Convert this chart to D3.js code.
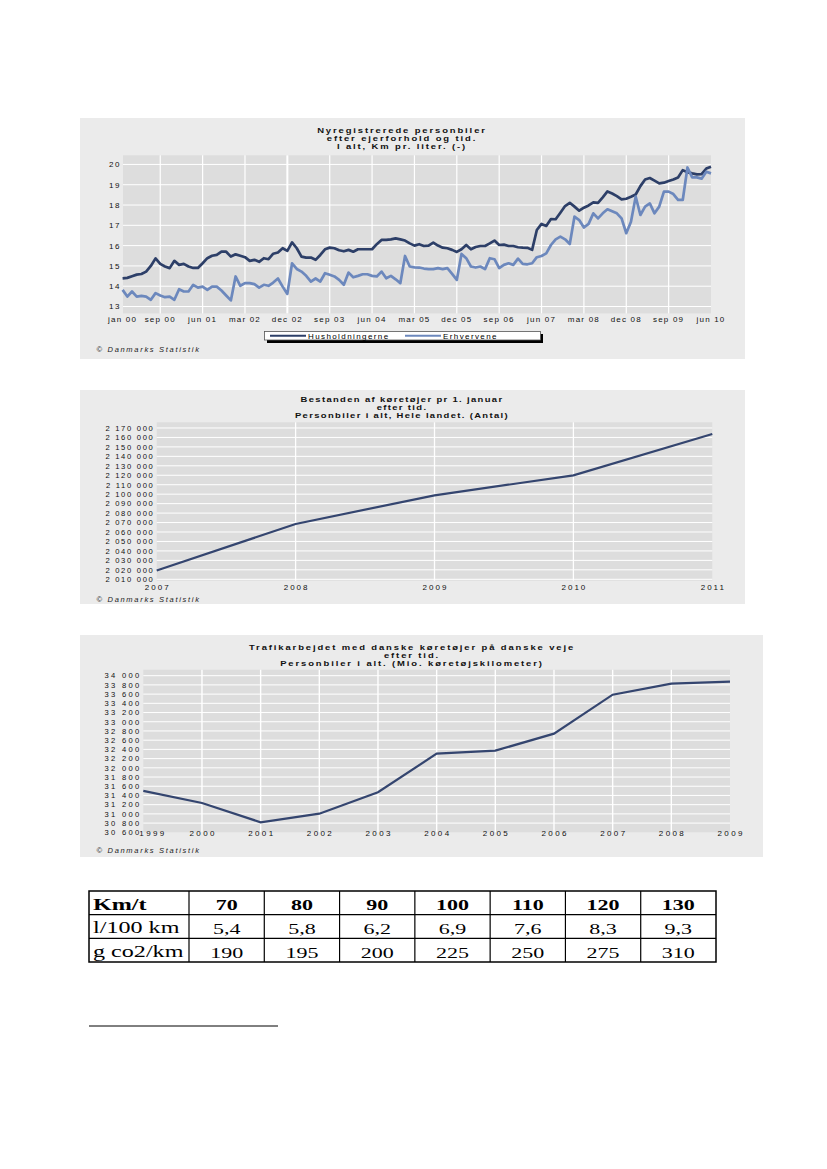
<!DOCTYPE html>
<html><head><meta charset="utf-8">
<script src="https://cdn.jsdelivr.net/npm/d3@7"></script>
<style>body{margin:0;background:#fff}svg{display:block}</style>
</head><body>
<svg id="c" width="827" height="1169"></svg>
<script>
// ---------- Chart 1 data ----------
const monthTicks = [0, 8, 17, 26, 35, 44, 53, 62, 71, 80, 89, 98, 107, 116, 125];
const monthLabels = ["jan 00","sep 00","jun 01","mar 02","dec 02","sep 03","jun 04","mar 05","dec 05","sep 06","jun 07","mar 08","dec 08","sep 09","jun 10"];
const kmlTicks = [13, 14, 15, 16, 17, 18, 19, 20];
const seriesNames = ["Husholdningerne", "Erhvervene"];
const husholdningerne = [
14.39,14.41,14.49,14.57,14.60,14.72,15.00,15.37,15.10,14.97,
14.89,15.25,15.05,15.10,14.97,14.90,14.90,15.13,15.38,15.50,
15.54,15.70,15.70,15.46,15.57,15.50,15.43,15.25,15.30,15.20,
15.38,15.33,15.60,15.66,15.87,15.74,16.16,15.87,15.46,15.41,
15.41,15.30,15.54,15.82,15.90,15.87,15.77,15.72,15.79,15.70,
15.82,15.82,15.82,15.82,16.07,16.28,16.28,16.31,16.36,16.31,
16.25,16.11,16.00,16.07,15.98,16.00,16.15,16.00,15.90,15.87,
15.79,15.69,15.82,16.03,15.82,15.93,15.98,15.98,16.11,16.25,
16.03,16.05,15.98,15.98,15.92,15.90,15.89,15.79,16.77,17.07,
16.97,17.31,17.30,17.62,17.95,18.11,17.92,17.72,17.87,17.98,
18.13,18.11,18.38,18.67,18.57,18.44,18.28,18.31,18.41,18.52,
18.93,19.26,19.33,19.20,19.07,19.10,19.18,19.26,19.36,19.72,
19.62,19.56,19.51,19.52,19.80,19.89];
const erhvervene = [
13.82,13.49,13.74,13.49,13.52,13.49,13.33,13.66,13.54,13.46,
13.49,13.33,13.85,13.74,13.74,14.07,13.93,13.98,13.82,13.98,
13.98,13.79,13.54,13.30,14.48,14.02,14.15,14.15,14.10,13.93,
14.07,14.02,14.18,14.38,13.98,13.62,15.13,14.85,14.72,14.51,
14.23,14.38,14.23,14.64,14.56,14.48,14.31,14.07,14.67,14.44,
14.51,14.59,14.59,14.51,14.48,14.72,14.39,14.51,14.34,14.15,
15.49,14.97,14.93,14.92,14.87,14.84,14.84,14.89,14.84,14.89,
14.61,14.31,15.59,15.38,14.97,14.92,14.97,14.84,15.38,15.33,
14.89,15.05,15.13,15.05,15.36,15.10,15.08,15.13,15.43,15.49,
15.62,16.03,16.31,16.44,16.31,16.08,17.43,17.26,16.89,17.07,
17.59,17.34,17.59,17.79,17.69,17.59,17.34,16.61,17.18,18.41,
17.51,17.92,18.08,17.59,17.92,18.66,18.66,18.54,18.25,18.25,
19.85,19.36,19.36,19.30,19.64,19.56];

// ---------- Chart 2 data ----------
const bestandYears = [2007, 2008, 2009, 2010, 2011];
const bestandValues = [2019300, 2068500, 2098800, 2119900, 2163600];
const bestandTicks = [2010000,2020000,2030000,2040000,2050000,2060000,2070000,2080000,2090000,2100000,2110000,2120000,2130000,2140000,2150000,2160000,2170000];

// ---------- Chart 3 data ----------
const trafikYears = [1999,2000,2001,2002,2003,2004,2005,2006,2007,2008,2009];
const trafikValues = [31500, 31236, 30817, 31004, 31469, 32307, 32372, 32741, 33588, 33827, 33870];
const trafikTicks = [30600,30800,31000,31200,31400,31600,31800,32000,32200,32400,32600,32800,33000,33200,33400,33600,33800,34000];

// ---------- Table data ----------
const rowLabels = ["Km/t", "l/100 km", "g co2/km"];
const speeds = ["70", "80", "90", "100", "110", "120", "130"];
const litres = ["5,4", "5,8", "6,2", "6,9", "7,6", "8,3", "9,3"];
const co2 = ["190", "195", "200", "225", "250", "275", "310"];

const svg = d3.select("#c");
const SANS = "'Liberation Sans', Arial, sans-serif";
const PANEL = "#ebebeb", PLOT = "#dddddd";
const spaced = v => d3.format(",")(v).replace(/,/g, " ");

function title(lines, cx, y0, dy, ls) {
  lines.forEach((t, i) => svg.append("text")
    .attr("transform", `translate(${cx},${y0 + i * dy}) scale(1.35,1)`)
    .attr("text-anchor", "middle").attr("font-family", SANS).attr("font-weight", "bold")
    .attr("font-size", 7).attr("letter-spacing", ls).attr("fill", "#111").text(t));
}
function copyright(x, y) {
  svg.append("text").attr("x", x).attr("y", y).attr("font-family", SANS)
    .attr("font-style", "italic").attr("font-size", 7.5).attr("letter-spacing", 1.7)
    .attr("fill", "#222").text("© Danmarks Statistik");
}

// ================= Chart 1 =================
svg.append("rect").attr("x", 80).attr("y", 118).attr("width", 665).attr("height", 241).attr("fill", PANEL);
const x1 = d3.scaleLinear().domain([0, 125]).range([122.6, 711]);
const y1 = d3.scaleLinear().domain([12.66, 20.45]).range([313.4, 155.3]);
svg.append("rect").attr("x", 123).attr("y", y1.range()[1]).attr("width", 588)
  .attr("height", y1.range()[0] - y1.range()[1]).attr("fill", PLOT);
const g1 = svg.append("g");
g1.selectAll("line.h").data(kmlTicks).join("line")
  .attr("x1", 123).attr("x2", 711).attr("y1", d => y1(d)).attr("y2", d => y1(d))
  .attr("stroke", "#fff").attr("stroke-width", 1);
g1.selectAll("line.v").data(monthTicks.slice(1, -1)).join("line")
  .attr("x1", d => x1(d)).attr("x2", d => x1(d)).attr("y1", y1.range()[1]).attr("y2", y1.range()[0])
  .attr("stroke", "#fff").attr("stroke-width", d => d === 35 ? 2 : 1.2);
const line1 = d3.line().x((d, i) => x1(i)).y(d => y1(d)).curve(d3.curveLinear);
const colors1 = ["#2d3f68", "#6c88bd"];
[husholdningerne, erhvervene].forEach((s, k) => {
  svg.append("path").datum(s).attr("d", line1).attr("fill", "none")
    .attr("stroke", colors1[k]).attr("stroke-width", 2.7).attr("stroke-linejoin", "round");
});
svg.append("g").selectAll("text").data(kmlTicks).join("text")
  .attr("x", 121).attr("y", d => y1(d) + 3).attr("text-anchor", "end")
  .attr("font-family", SANS).attr("font-size", 8).attr("letter-spacing", 1.6).attr("fill", "#111")
  .text(d => d);
svg.append("g").selectAll("text").data(monthTicks).join("text")
  .attr("x", d => x1(d)).attr("y", 322).attr("text-anchor", "middle")
  .attr("font-family", SANS).attr("font-size", 8).attr("letter-spacing", 1.2).attr("fill", "#111")
  .text((d, i) => monthLabels[i]);
title(["Nyregistrerede personbiler", "efter ejerforhold og tid.", "I alt, Km pr. liter. (-)"], 402, 132.5, 8.4, 1.4);
// legend
svg.append("rect").attr("x", 267).attr("y", 334).attr("width", 276).attr("height", 9).attr("fill", "#000");
svg.append("rect").attr("x", 264.5).attr("y", 331.5).attr("width", 276).attr("height", 8.5)
  .attr("fill", "#fff").attr("stroke", "#555").attr("stroke-width", 0.8);
const legX = [270, 405];
seriesNames.forEach((n, k) => {
  svg.append("line").attr("x1", legX[k]).attr("x2", legX[k] + 36).attr("y1", 335.8).attr("y2", 335.8)
    .attr("stroke", colors1[k]).attr("stroke-width", 2);
  svg.append("text").attr("x", legX[k] + 38).attr("y", 338.8).attr("font-family", SANS)
    .attr("font-size", 8).attr("letter-spacing", 1.4).attr("fill", "#000").text(n);
});
copyright(96.5, 352);

// ================= Chart 2 =================
svg.append("rect").attr("x", 80).attr("y", 390).attr("width", 665).attr("height", 214).attr("fill", PANEL);
const x2 = d3.scaleLinear().domain([2007, 2011]).range([156.7, 712.3]);
const y2 = d3.scaleLinear().domain([2008500, 2176000]).range([580.7, 422.3]);
svg.append("rect").attr("x", 156.7).attr("y", 422.3).attr("width", 712.3 - 156.7).attr("height", 580.7 - 422.3).attr("fill", PLOT);
const g2 = svg.append("g");
g2.selectAll("line.h").data(bestandTicks).join("line")
  .attr("x1", 156.7).attr("x2", 712.3).attr("y1", d => y2(d)).attr("y2", d => y2(d))
  .attr("stroke", "#fff").attr("stroke-width", 1);
g2.selectAll("line.v").data(bestandYears.slice(1, -1)).join("line")
  .attr("x1", d => x2(d)).attr("x2", d => x2(d)).attr("y1", 422.3).attr("y2", 580.7)
  .attr("stroke", "#fff").attr("stroke-width", 1.3);
svg.append("path").datum(bestandValues)
  .attr("d", d3.line().x((d, i) => x2(bestandYears[i])).y(d => y2(d)))
  .attr("fill", "none").attr("stroke", "#34456f").attr("stroke-width", 2.2);
svg.append("g").selectAll("text").data(bestandTicks).join("text")
  .attr("x", 154.5).attr("y", d => y2(d) + 2.8).attr("text-anchor", "end")
  .attr("font-family", SANS).attr("font-size", 7.6).attr("letter-spacing", 1.7).attr("fill", "#111")
  .text(d => spaced(d));
svg.append("g").selectAll("text").data(bestandYears).join("text")
  .attr("x", d => x2(d) + 1).attr("y", 590).attr("text-anchor", "middle")
  .attr("font-family", SANS).attr("font-size", 8).attr("letter-spacing", 2).attr("fill", "#111")
  .text(d => d);
title(["Bestanden af køretøjer pr 1. januar", "efter tid.", "Personbiler i alt, Hele landet. (Antal)"], 402, 402, 8, 1.0);
copyright(96.5, 601.5);

// ================= Chart 3 =================
svg.append("rect").attr("x", 80).attr("y", 635).attr("width", 683).attr("height", 222).attr("fill", PANEL);
const x3 = d3.scaleLinear().domain([1999, 2009]).range([143.3, 730]);
const y3 = d3.scaleLinear().domain([30600, 34130]).range([832.3, 669.7]);
svg.append("rect").attr("x", 143.3).attr("y", 669.7).attr("width", 730 - 143.3).attr("height", 832.3 - 669.7).attr("fill", PLOT);
const g3 = svg.append("g");
g3.selectAll("line.h").data(trafikTicks.slice(1)).join("line")
  .attr("x1", 143.3).attr("x2", 730).attr("y1", d => y3(d)).attr("y2", d => y3(d))
  .attr("stroke", "#fff").attr("stroke-width", 1);
g3.selectAll("line.v").data(trafikYears.slice(1, -1)).join("line")
  .attr("x1", d => x3(d)).attr("x2", d => x3(d)).attr("y1", 669.7).attr("y2", 832.3)
  .attr("stroke", "#fff").attr("stroke-width", 1.4);
svg.append("path").datum(trafikValues)
  .attr("d", d3.line().x((d, i) => x3(trafikYears[i])).y(d => y3(d)))
  .attr("fill", "none").attr("stroke", "#34456f").attr("stroke-width", 2.2);
svg.append("g").selectAll("text").data(trafikTicks).join("text")
  .attr("x", 141.5).attr("y", d => y3(d) + 2.8).attr("text-anchor", "end")
  .attr("font-family", SANS).attr("font-size", 7.6).attr("letter-spacing", 2.3).attr("fill", "#111")
  .text(d => spaced(d));
svg.append("g").selectAll("text").data(trafikYears).join("text")
  .attr("x", d => Math.max(x3(d) + 1.2, 153)).attr("y", 835.5).attr("text-anchor", "middle")
  .attr("font-family", SANS).attr("font-size", 8).attr("letter-spacing", 2.4).attr("fill", "#111")
  .text(d => d);
title(["Trafikarbejdet med danske køretøjer på danske veje", "efter tid.", "Personbiler i alt. (Mio. køretøjskilometer)"], 412, 649.5, 8, 1.4);
copyright(96.5, 852.5);

// ================= Table =================
const SERIF = "'Liberation Serif', 'Times New Roman', serif";
const colX = d3.scaleBand().domain(speeds).range([189, 716]);
const rowY = d3.scaleBand().domain(rowLabels).range([891, 962]);
const tbl = svg.append("g");
tbl.append("rect").attr("x", 89).attr("y", 891).attr("width", 716 - 89).attr("height", 71)
  .attr("fill", "none").attr("stroke", "#000").attr("stroke-width", 1.5);
tbl.selectAll("line.r").data(rowLabels.slice(1)).join("line")
  .attr("x1", 89).attr("x2", 716).attr("y1", d => rowY(d)).attr("y2", d => rowY(d))
  .attr("stroke", "#000").attr("stroke-width", 1.2);
tbl.selectAll("line.c").data(speeds).join("line")
  .attr("x1", d => colX(d)).attr("x2", d => colX(d)).attr("y1", 891).attr("y2", 962)
  .attr("stroke", "#000").attr("stroke-width", 1.2);
function cell(txt, cx, y, size, bold, anchor) {
  tbl.append("text").attr("transform", `translate(${cx},${y}) scale(1.42,1)`)
    .attr("text-anchor", anchor).attr("font-family", SERIF).attr("font-size", size)
    .attr("font-weight", bold ? "bold" : "normal").attr("fill", "#000").text(txt);
}
rowLabels.forEach((r, i) => cell(r, 93, rowY(r) + 18.5, 17, i === 0, "start"));
const rows = [speeds, litres, co2];
rows.forEach((vals, i) => {
  vals.forEach((v, j) => cell(v, colX(speeds[j]) + colX.bandwidth() / 2,
    rowY(rowLabels[i]) + (i === 0 ? 18.5 : 19.5), 15.5, i === 0, "middle"));
});
svg.append("line").attr("x1", 89).attr("x2", 278).attr("y1", 1026).attr("y2", 1026)
  .attr("stroke", "#000").attr("stroke-width", 1);
</script>
</body></html>
